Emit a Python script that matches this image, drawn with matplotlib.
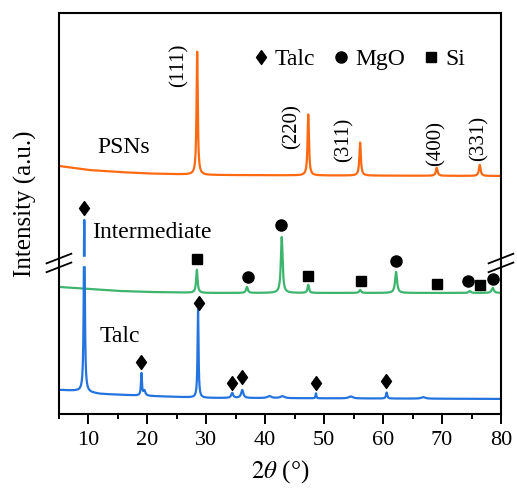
import numpy as np
import matplotlib
matplotlib.use("Agg")
import matplotlib.pyplot as plt
from matplotlib.lines import Line2D
from matplotlib.ticker import MultipleLocator

plt.rcParams['font.family'] = ['Liberation Serif', 'DejaVu Serif']
plt.rcParams['mathtext.fontset'] = 'stix'

# Peak tables: position (deg), height (a.u.), FWHM (deg)
psn_pos = [28.45, 47.3, 56.1, 69.1, 76.4]
psn_height = [123, 61, 33, 8, 11]
psn_fwhm = [0.25, 0.28, 0.3, 0.35, 0.35]

mid_pos = [28.4, 36.9, 42.8, 47.3, 56.1, 62.2, 74.7, 78.6]
mid_height = [23, 6, 56, 8, 3, 21, 2, 5]
mid_fwhm = [0.3, 0.35, 0.35, 0.3, 0.35, 0.4, 0.4, 0.45]

talc_pos = [9.3, 19.0, 19.5, 28.6, 34.4, 36.1, 40.7, 42.9, 48.6, 54.5, 60.6, 66.8]
talc_height = [172, 22, 5, 88, 5, 8, 2, 2, 5, 2, 6, 1.5]
talc_fwhm = [0.22, 0.2, 0.4, 0.2, 0.4, 0.45, 0.8, 0.8, 0.15, 0.8, 0.25, 0.8]

# Background levels (offset already included)
psn_bg_x = [5, 10, 15, 20, 30, 50, 80]
psn_bg_y = [248, 244, 242, 240.5, 239, 238.5, 238]
mid_bg_x = [5, 10, 15, 20, 30, 80]
mid_bg_y = [127, 125, 123, 122, 121, 121]
talc_bg_x = [5, 8, 12, 20, 30, 80]
talc_bg_y = [24, 23, 20, 18, 16, 15]

# Phase markers
talc_mark_x = [9.3, 19.0, 28.8, 34.4, 36.1, 48.6, 60.5]
talc_mark_y = [206, 52, 111, 31, 37, 31, 33]
mgo_mark_x = [37.0, 42.7, 62.2, 74.4, 78.6]
mgo_mark_y = [137, 189, 153, 133, 135]
si_mark_x = [28.5, 47.3, 56.3, 69.2, 76.5]
si_mark_y = [155, 138, 133, 130, 129]

hkl_labels = ['(111)', '(220)', '(311)', '(400)', '(331)']
hkl_x = [25.4, 44.6, 53.4, 69.0, 76.2]
hkl_y = [349, 287, 274, 270, 276]


def pattern(x, bg_x, bg_y, pos, height, fwhm):
    y = np.interp(x, bg_x, bg_y)
    for p, h, w in zip(pos, height, fwhm):
        y = y + h / (1 + ((x - p) / (w / 2)) ** 2)
    return y


x = np.linspace(5, 80, 7501)
y_psn = pattern(x, psn_bg_x, psn_bg_y, psn_pos, psn_height, psn_fwhm)
y_mid = pattern(x, mid_bg_x, mid_bg_y, mid_pos, mid_height, mid_fwhm)
y_talc = pattern(x, talc_bg_x, talc_bg_y, talc_pos, talc_height, talc_fwhm)

diamond = [(0, 1), (0.72, 0), (0, -1), (-0.72, 0), (0, 1)]

fig = plt.figure(figsize=(5.17, 4.91), dpi=100)
ax = fig.add_axes([0.114, 0.157, 0.855, 0.8165])

ax.plot(x, y_psn, color='#FF6A10', lw=1.6, zorder=2)
ax.plot(x, y_mid, color='#3DB56E', lw=1.6, zorder=2)
ax.plot(x, y_talc, color='#2474E0', lw=1.6, zorder=2)
# gap in the talc peak where the axis is broken
ax.fill_between([8.7, 9.9], 149, 157, color='white', zorder=3)

ax.plot(talc_mark_x, talc_mark_y, ls='none', marker=diamond, ms=10, color='k', zorder=4)
ax.plot(mgo_mark_x, mgo_mark_y, ls='none', marker='o', ms=8, color='k', zorder=4)
ax.plot(si_mark_x, si_mark_y, ls='none', marker='s', ms=7, color='k', zorder=4)

for lab, hx, hy in zip(hkl_labels, hkl_x, hkl_y):
    ax.text(hx, hy, lab, rotation=90, ha='center', va='center', fontsize=15)

ax.text(11.5, 266, 'PSNs', fontsize=17, va='center')
ax.text(10.6, 181, 'Intermediate', fontsize=17, va='center')
ax.text(11.9, 77, 'Talc', fontsize=17, va='center')

handles = [Line2D([], [], ls='none', marker=diamond, ms=10, color='k'),
           Line2D([], [], ls='none', marker='o', ms=8, color='k'),
           Line2D([], [], ls='none', marker='s', ms=7, color='k')]
ax.legend(handles, ['Talc', 'MgO', 'Si'], ncol=3, frameon=False, fontsize=17,
          handlelength=0.6, handletextpad=0.3, columnspacing=0.8,
          loc='center', bbox_to_anchor=(0.68, 0.885))

# axis break marks
yb = (414 - 263) / 401
for xs in (0, 1):
    for dy in (-0.011, 0.011):
        ax.plot([xs - 0.028, xs + 0.028], [yb + dy - 0.012, yb + dy + 0.012],
                color='k', lw=1.3, transform=ax.transAxes, clip_on=False, zorder=5)

ax.set_xlim(5, 80)
ax.set_ylim(0, 401)
ax.xaxis.set_major_locator(MultipleLocator(10))
ax.xaxis.set_minor_locator(MultipleLocator(5))
ax.set_yticks([])
ax.tick_params(axis='x', which='major', direction='out', length=7, width=1.4,
               labelsize=16, pad=5)
ax.tick_params(axis='x', which='minor', direction='out', length=3.5, width=1.4)
for s in ax.spines.values():
    s.set_linewidth(1.5)

ax.set_xlabel(r'$2\theta$ (°)', fontsize=18, labelpad=6)
ax.set_ylabel('Intensity (a.u.)', fontsize=18)
ax.yaxis.set_label_coords(-0.05, 0.524)

fig.savefig('out.png', dpi=100)
